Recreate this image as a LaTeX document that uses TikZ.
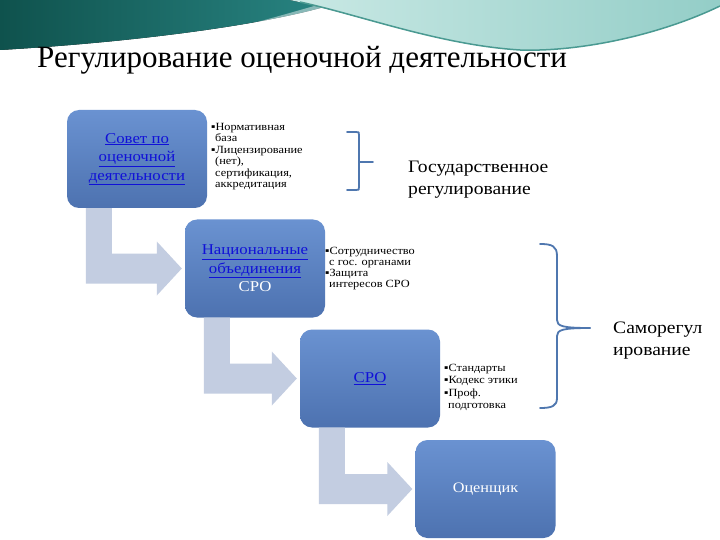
\documentclass[tikz,border=0pt]{standalone}
\usepackage{fontspec}
\setmainfont{Liberation Serif}
\newfontfamily\cam[FakeStretch=1.12]{Liberation Serif}
\usetikzlibrary{calc}
\definecolor{boxtop}{HTML}{6A92D1}
\definecolor{boxbot}{HTML}{4D72B0}
\definecolor{arr}{HTML}{C3CDE1}
\definecolor{brk}{HTML}{4F77AF}
\definecolor{lnk}{HTML}{1010D8}
\definecolor{tealdark}{HTML}{0F524D}
\definecolor{tealmid}{HTML}{2A8785}
\definecolor{teallight}{HTML}{A6DAD3}
\definecolor{tealedge}{HTML}{4A9A92}
\newcommand\lnktext[1]{{\color{lnk}\underline{#1}}}
\begin{document}
\begin{tikzpicture}[x=1pt,y=-1pt,
  stage/.style={rectangle, rounded corners=12pt, minimum width=140pt, minimum height=98pt,
    top color=boxtop, bottom color=boxbot, draw=none, align=center,
    font=\cam\fontsize{15}{18.5}\selectfont, inner sep=2pt},
  bul/.style={anchor=north west, align=left, inner sep=0pt},
  lab/.style={anchor=north west, align=left, inner sep=0pt, font=\cam\fontsize{17.5}{22}\selectfont},
  arrowfill/.style={fill=arr},
  brace/.style={draw=brk, line width=1.8pt, line cap=round, line join=round}]
\useasboundingbox (0,0) rectangle (720,540);
\fill[white] (0,0) rectangle (720,540);
% top decoration
\fill[left color=tealdark, right color=tealmid] (0,0) -- (345,0) .. controls (300,18) and (170,40) .. (0,50) -- cycle;
\fill[white, opacity=0.45] (210,34) .. controls (260,22) and (300,10) .. (335,0) -- (345,0) .. controls (300,16) and (260,28) .. (210,34) -- cycle;
\fill[left color=teallight!60!white, right color=teallight!85!tealmid] (290,0) -- (720,0) -- (720,6) .. controls (660,35) and (580,52) .. (520,50) .. controls (440,45) and (360,15) .. (290,0) -- cycle;
\draw[tealedge, line width=1.5pt] (720,6) .. controls (660,35) and (580,52) .. (520,50) .. controls (440,45) and (360,15) .. (300,2);
% title
\node[anchor=base west, inner sep=0pt, font=\fontsize{31}{34}\selectfont] (title) at (37,68) {Регулирование оценочной деятельности};
% boxes
\node[stage] (b1) at (137,159) {\lnktext{Совет по}\\\lnktext{оценочной}\\\lnktext{деятельности}};
\node[stage] (b2) at (255,268.5) {\lnktext{Национальные}\\\lnktext{объединения}\\\textcolor{white}{СРО}};
\node[stage] (b3) at (370,378.5) {\lnktext{СРО}};
\node[stage, font=\cam\fontsize{14.5}{17}\selectfont, text=white] (b4) at (485.5,489) {Оценщик};
% bent arrows
\foreach \a/\b in {b1/b2,b2/b3,b3/b4} {
  \coordinate (L) at ($(\a.south west)+(19,0)$);
  \coordinate (R) at ($(\a.south west)+(45,0)$);
  \coordinate (T) at ($(\b.west)+(-28,-15)$);
  \coordinate (D) at ($(\b.west)+(-28,15)$);
  \fill[arrowfill] (L) -- (R) -- (R |- T) -- (T) -- ($(\b.west)+(-28,-27)$) -- ($(\b.west)+(-3,0)$)
     -- ($(\b.west)+(-28,27)$) -- (D) -- (L |- D) -- cycle;
}
% bullet texts
\node[bul, font=\cam\fontsize{11}{11.5}\selectfont] (t1) at (211,123) {▪Нормативная\\\hspace*{4pt}база\\▪Лицензирование\\\hspace*{4pt}(нет),\\\hspace*{4pt}сертификация,\\\hspace*{4pt}аккредитация};
\node[bul, font=\cam\fontsize{11}{11}\selectfont] (t2) at (325,247) {▪Сотрудничество\\\hspace*{4pt}с гос. органами\\▪Защита\\\hspace*{4pt}интересов СРО};
\node[bul, font=\cam\fontsize{11}{12.3}\selectfont] (t3) at (444,364) {▪Стандарты\\▪Кодекс этики\\▪Проф.\\\hspace*{4pt}подготовка};
% brackets
\draw[brace] (347,132) -- (356,132) .. controls (359,132) .. (359,135) -- (359,187) .. controls (359,190) .. (356,190) -- (347,190);
\draw[brace] (359,162) -- (373,162);
\draw[brace] (540,244) .. controls (552,244) and (557,246) .. (557,256) -- (557,320) .. controls (557,326) and (562,328) .. (590,328);
\draw[brace] (590,328) .. controls (562,328) and (557,330) .. (557,336) -- (557,398) .. controls (557,406) and (552,408) .. (540,408);
% labels
\node[lab] (g) at (408,161) {Государственное\\регулирование};
\node[lab] (s) at (613,322) {Саморегул\\ирование};
\end{tikzpicture}
\end{document}
